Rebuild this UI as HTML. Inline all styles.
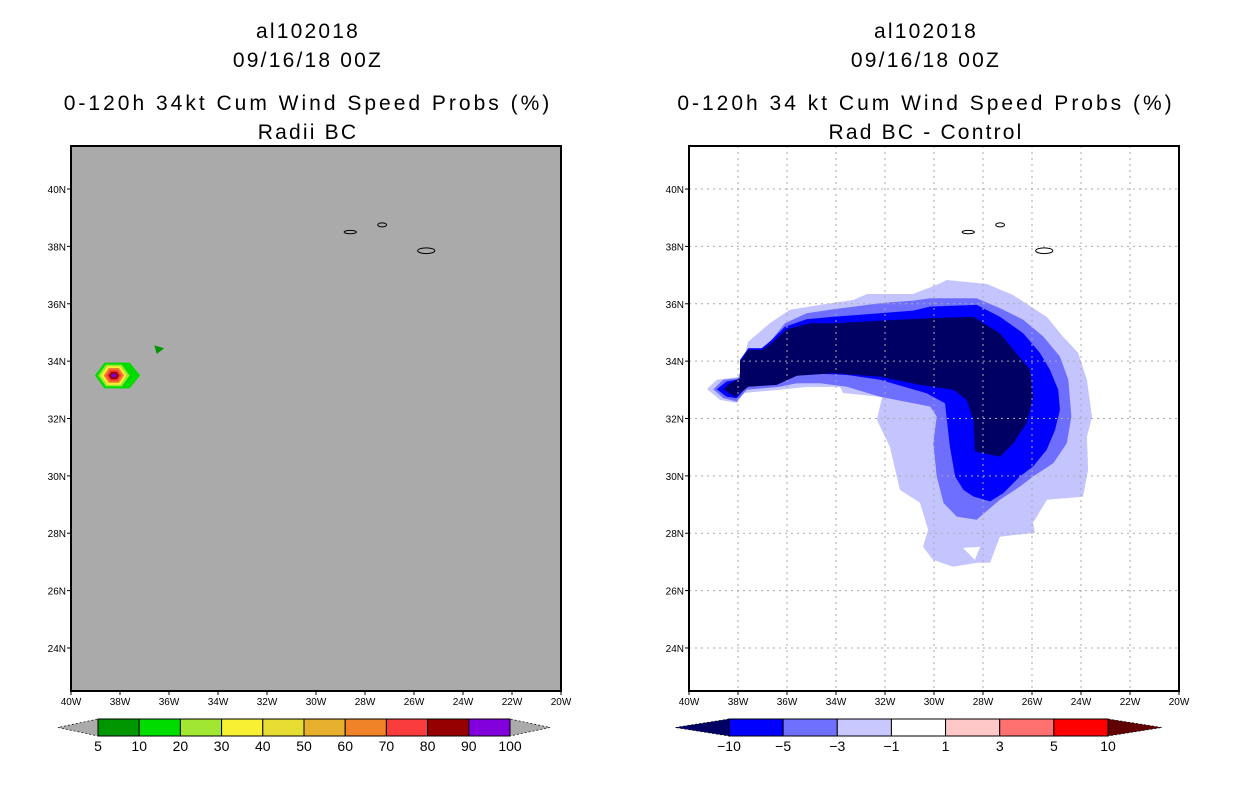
<!DOCTYPE html>
<html><head><meta charset="utf-8"><style>
body{margin:0;background:#fff;width:1236px;height:800px;overflow:hidden}
svg{display:block}
text{font-family:"Liberation Sans",sans-serif}
</style></head><body>
<svg id="s" width="1236" height="800" xmlns="http://www.w3.org/2000/svg"></svg>
<script>
const lonTicks=[-40,-38,-36,-34,-32,-30,-28,-26,-24,-22,-20];
const latTicks=[24,26,28,30,32,34,36,38,40];
const leftLevels=["5","10","20","30","40","50","60","70","80","90","100"];
const leftColors=["#009600","#00dc00","#a0e632","#f8f032","#e6dc32","#e6af2d","#f08228","#fa3c3c","#960000","#8200dc"];
const rightLevels=["\u221210","\u22125","\u22123","\u22121","1","3","5","10"];
const rightColors=["#0000ff","#7070ff","#c8c8ff","#ffffff","#ffc8c8","#ff7070","#ff0000"];
const diffLight=[[-39.27,33.03],[-38.86,33.35],[-37.92,33.45],[-37.59,34.67],[-36.69,35.33],[-35.88,35.79],[-34.65,35.96],[-33.31,36.13],[-32.73,36.34],[-30.86,36.34],[-29.88,36.66],[-29.47,36.83],[-27.84,36.69],[-26.78,36.31],[-25.39,35.54],[-24.73,34.85],[-24.12,34.29],[-23.76,33.35],[-23.55,32.06],[-23.76,31.36],[-23.71,30.21],[-23.92,29.27],[-25.39,29.17],[-25.96,28.36],[-25.88,28.02],[-27.31,27.88],[-27.71,26.97],[-28.24,26.97],[-29.22,26.83],[-30.04,27.07],[-30.45,27.53],[-30.24,28.12],[-30.57,29.06],[-31.39,29.51],[-31.80,31.01],[-32.33,31.95],[-32.12,32.75],[-33.71,32.89],[-33.84,33.10],[-35.18,33.10],[-36.29,33.00],[-37.80,32.89],[-38.04,32.54],[-38.73,32.65]];
const diffNotch=[[-28.82,27.49],[-28.12,27.53],[-28.33,27.07]];
const diffMed=[[-39.01,33.02],[-38.60,33.35],[-37.99,33.41],[-37.58,34.45],[-37.03,34.45],[-36.69,34.68],[-36.08,35.32],[-35.20,35.67],[-34.11,35.81],[-32.20,36.02],[-30.84,36.11],[-30.16,36.19],[-28.26,36.19],[-27.31,35.85],[-26.36,35.44],[-25.54,34.86],[-24.86,34.16],[-24.52,33.35],[-24.39,32.07],[-24.58,31.14],[-25.13,30.44],[-25.95,29.98],[-26.49,29.63],[-27.31,29.17],[-28.26,28.47],[-29.07,28.58],[-29.61,29.05],[-29.89,29.98],[-30.03,31.14],[-29.89,32.07],[-30.16,32.42],[-32.20,32.76],[-33.56,33.11],[-34.65,33.23],[-35.60,33.23],[-36.29,33.11],[-37.64,33.00],[-38.05,32.59],[-38.60,32.71]];
const diffBlue=[[-38.87,33.02],[-38.46,33.29],[-37.92,33.37],[-37.92,34.04],[-37.58,34.45],[-37.03,34.45],[-36.62,34.74],[-36.08,35.20],[-35.20,35.46],[-34.11,35.55],[-32.20,35.67],[-30.84,35.76],[-30.16,35.90],[-28.26,35.96],[-27.31,35.55],[-26.36,34.97],[-25.67,34.28],[-25.27,33.70],[-24.93,33.00],[-24.86,32.30],[-25.06,31.60],[-25.40,30.91],[-25.95,30.33],[-26.49,29.98],[-27.17,29.40],[-27.71,29.11],[-28.39,29.28],[-28.80,29.51],[-29.14,29.98],[-29.35,31.02],[-29.55,32.53],[-30.30,32.88],[-32.20,33.35],[-33.56,33.52],[-35.20,33.58],[-35.88,33.46],[-36.56,33.23],[-37.64,33.11],[-38.05,32.71],[-38.46,32.76]];
const diffNavy=[[-38.60,33.02],[-38.12,32.76],[-37.58,33.11],[-36.42,33.17],[-35.60,33.49],[-34.11,33.58],[-32.20,33.46],[-30.57,33.17],[-29.21,33.00],[-28.67,32.65],[-28.39,31.95],[-28.33,30.85],[-27.31,30.67],[-26.76,31.14],[-26.22,31.84],[-25.95,32.77],[-26.08,33.70],[-26.76,34.39],[-27.31,34.97],[-28.39,35.55],[-30.03,35.50],[-32.20,35.41],[-34.11,35.32],[-35.06,35.32],[-36.01,35.11],[-36.62,34.63],[-37.03,34.39],[-37.58,34.39],[-37.92,33.98],[-37.92,33.41],[-38.33,33.23]];
const blobCenter=[-38.25,33.5];
const blobW=[0.77,0.64,0.52,0.42,0.32,0.22,0.12];
const blobH=[0.45,0.38,0.32,0.26,0.2,0.13,0.06];
const blobColors=["#00dc00","#a0e632","#f8f032","#f08228","#fa3c3c","#960000","#8200dc"];
const islands=[[-28.6,38.5,0.25,0.06],[-27.3,38.75,0.18,0.07],[-25.5,37.85,0.35,0.1]];

const S=document.getElementById('s');const NS="http://www.w3.org/2000/svg";
function el(t,a,p){const e=document.createElementNS(NS,t);for(const k in a)e.setAttribute(k,a[k]);(p||S).appendChild(e);return e;}
const Y0=146,Y1=691,W=490;
function xs(x0){return lon=>x0+(lon+40)/20*W;}
function ys(lat){return Y0+(41.5-lat)/19*(Y1-Y0);}
function pts(arr,fx){return arr.map(p=>fx(p[0]).toFixed(1)+","+ys(p[1]).toFixed(1)).join(" ");}

function titles(cx,l3,l4){
  [["al102018",31],["09/16/18 00Z",60],[l3,103],[l4,132]].forEach((t,i)=>{
    const e=el('text',{x:cx,y:t[1]+7,'text-anchor':'middle','font-size':21,'letter-spacing':(i==2?3:2.2),fill:'#000'});e.textContent=t[0];
    
    
  });
}
function axes(x0,g,grid){
  const fx=xs(x0);
  if(grid){
    lonTicks.slice(1,-1).forEach(l=>el('line',{x1:fx(l),x2:fx(l),y1:Y0,y2:Y1,stroke:'#aaa','stroke-dasharray':'2,4'},g));
    latTicks.forEach(l=>el('line',{x1:x0,x2:x0+W,y1:ys(l),y2:ys(l),stroke:'#aaa','stroke-dasharray':'2,4'},g));
  }
  const f=el('rect',{x:x0,y:Y0,width:W,height:Y1-Y0,fill:'none',stroke:'#000','stroke-width':2},g);
  
  lonTicks.forEach(l=>{
    el('line',{x1:fx(l),x2:fx(l),y1:Y1,y2:Y1+4,stroke:'#000'},g);
    const t=el('text',{x:fx(l),y:Y1+14,'text-anchor':'middle','font-size':10},g);t.textContent=Math.abs(l)+"W";
    
  });
  latTicks.forEach(l=>{
    el('line',{x1:x0-4,x2:x0,y1:ys(l),y2:ys(l),stroke:'#000'},g);
    const t=el('text',{x:x0-5,y:ys(l)+4,'text-anchor':'end','font-size':10},g);t.textContent=l+"N";
    
  });
  islands.forEach(i=>{el('ellipse',{cx:fx(i[0]),cy:ys(i[1]),rx:i[2]*W/20,ry:i[3]*28.7,fill:'none',stroke:'#000','stroke-width':1},g);});
}
function colorbar(x0,x1,y,labels,colors,triL,triR,tw,g){
  const n=colors.length,w=(x1-x0)/n,h=17;
  el('polygon',{points:`${x0},${y} ${x0},${y+h} ${x0-tw},${y+h/2}`,fill:triL,stroke:'#000','stroke-dasharray':'2,2','stroke-width':0.7},g);
  el('polygon',{points:`${x1},${y} ${x1},${y+h} ${x1+tw},${y+h/2}`,fill:triR,stroke:'#000','stroke-dasharray':'2,2','stroke-width':0.7},g);
  colors.forEach((c,i)=>{const r=el('rect',{x:x0+i*w,y:y,width:w,height:h,fill:c,stroke:'#000','stroke-width':1},g);
    });
  const lw=(x1-x0)/(labels.length-1);
  labels.forEach((l,i)=>{const t=el('text',{x:x0+i*lw,y:y+h+15,'text-anchor':'middle','font-size':14},g);t.textContent=l;
    });
}
// Left panel
const gL=el('g',{});
titles(308,"0-120h 34kt Cum Wind Speed Probs (%)","Radii BC");
el('rect',{x:71,y:Y0,width:W,height:Y1-Y0,fill:'#aaaaaa'},gL);
const fL=xs(71);
el('polygon',{points:pts([[-38.1,33.95],[-37.6,33.95],[-37.18,33.5],[-37.6,33.05],[-38.1,33.05]],fL),fill:'#00dc00'},gL);
blobW.forEach((w,i)=>{
  const c=blobCenter;const hx=[[c[0]-w,c[1]],[c[0]-w*0.5,c[1]+blobH[i]],[c[0]+w*0.5,c[1]+blobH[i]],[c[0]+w,c[1]],[c[0]+w*0.5,c[1]-blobH[i]],[c[0]-w*0.5,c[1]-blobH[i]]];
  const p=el('polygon',{points:pts(hx,fL),fill:blobColors[i]},gL);
  
});
el('polygon',{points:pts([[-36.6,34.55],[-36.2,34.45],[-36.5,34.25]],fL),fill:'#009600'},gL);
axes(71,gL,false);
colorbar(98,510,719,leftLevels,leftColors,'#aaaaaa','#aaaaaa',40,gL);
// Right panel
const gR=el('g',{});
titles(926,"0-120h 34 kt Cum Wind Speed Probs (%)","Rad BC - Control");
const fR=xs(689);
[[diffLight,"#c4c4ff"],[diffNotch,"#ffffff"],[diffMed,"#6e6eff"],[diffBlue,"#0000ff"],[diffNavy,"#000064"]].forEach(d=>{
  const p=el('polygon',{points:pts(d[0],fR),fill:d[1]},gR);
  
});
axes(689,gR,true);
colorbar(729,1108,719,rightLevels,rightColors,'#000064','#600000',54,gR);
</script>
</body></html>
